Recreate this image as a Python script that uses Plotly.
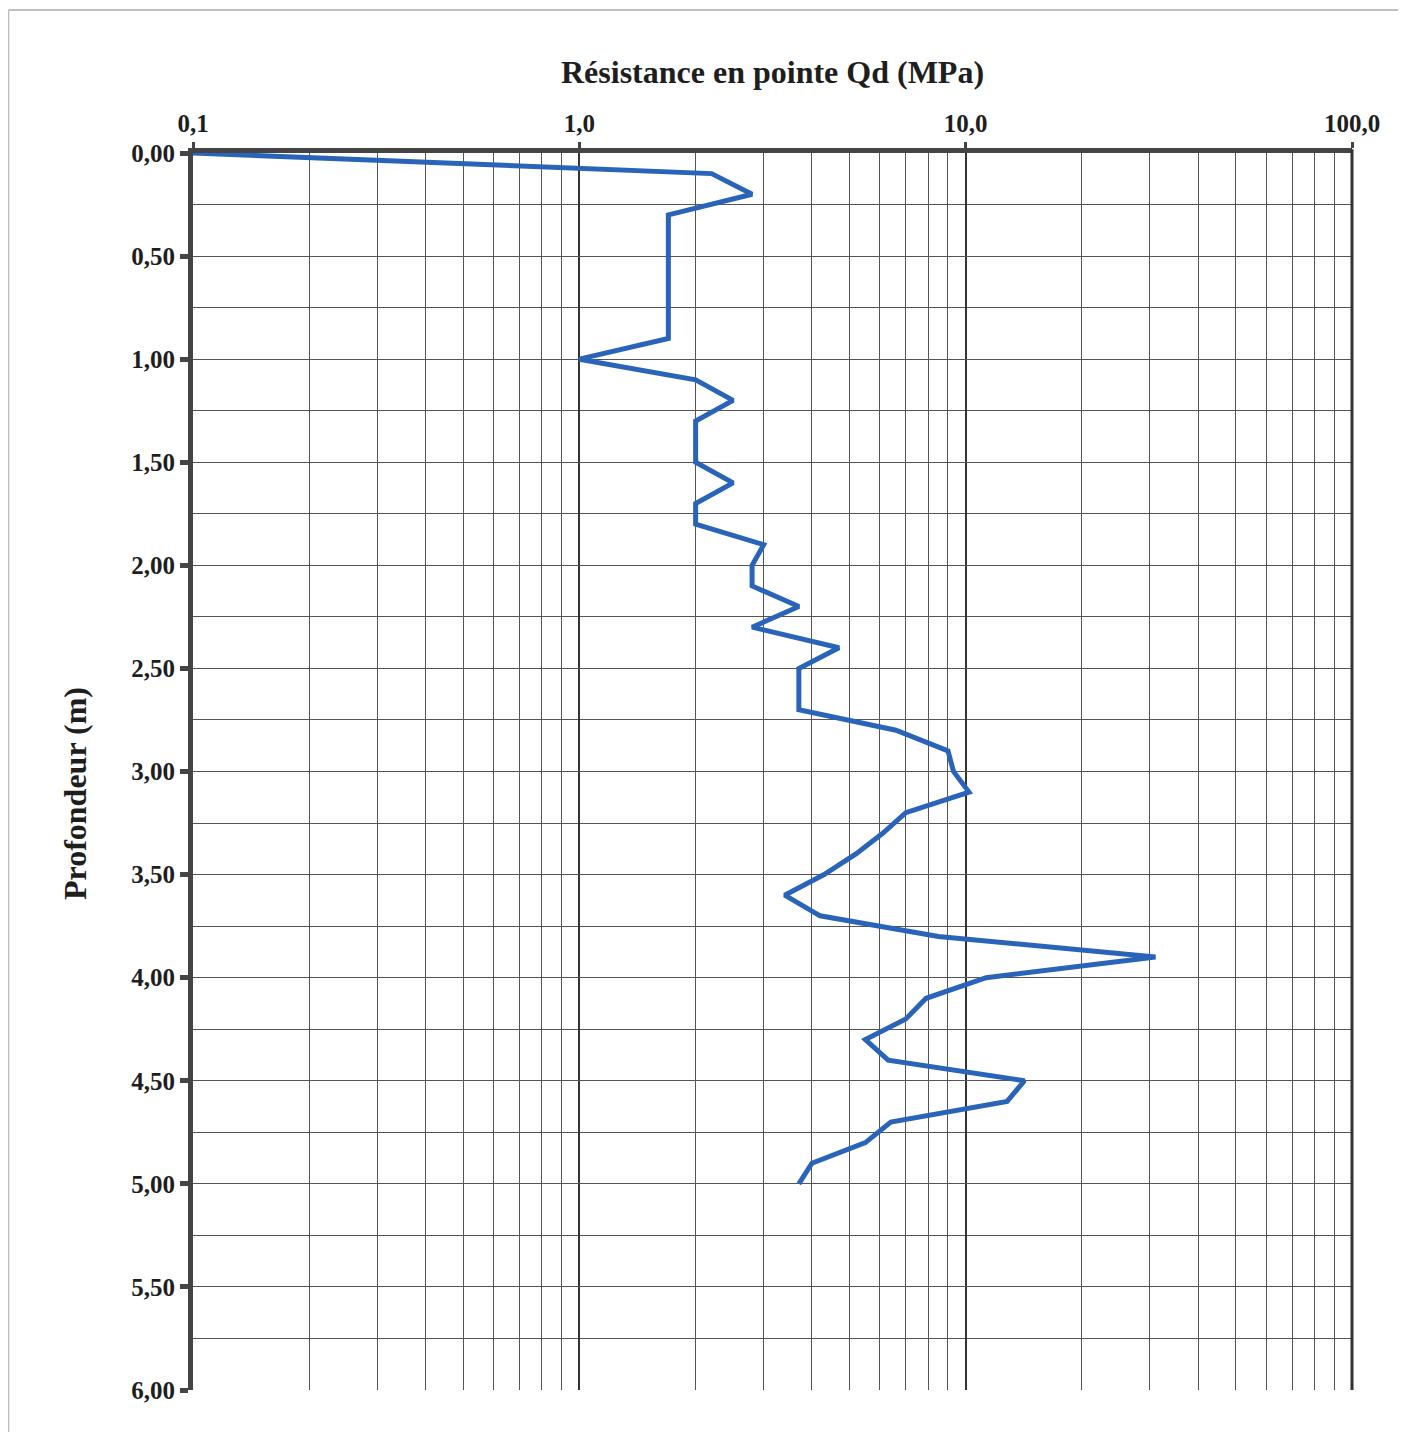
import plotly.graph_objects as go

# Data: depth (m) and cone resistance Qd (MPa)
depth = [0.0, 0.1, 0.2, 0.3, 0.4, 0.5, 0.6, 0.7, 0.8, 0.9,
         1.0, 1.1, 1.2, 1.3, 1.4, 1.5, 1.6, 1.7, 1.8, 1.9,
         2.0, 2.1, 2.2, 2.3, 2.4, 2.5, 2.6, 2.7, 2.8, 2.9,
         3.0, 3.1, 3.2, 3.3, 3.4, 3.5, 3.6, 3.7, 3.8, 3.9,
         4.0, 4.1, 4.2, 4.3, 4.4, 4.5, 4.6, 4.7, 4.8, 4.9, 5.0]
qd = [0.1, 2.2, 2.8, 1.7, 1.7, 1.7, 1.7, 1.7, 1.7, 1.7,
      1.0, 2.0, 2.5, 2.0, 2.0, 2.0, 2.5, 2.0, 2.0, 3.0,
      2.8, 2.8, 3.7, 2.8, 4.7, 3.7, 3.7, 3.7, 6.6, 9.0,
      9.3, 10.2, 7.0, 6.1, 5.2, 4.3, 3.4, 4.2, 8.5, 31.0,
      11.3, 7.9, 7.0, 5.5, 6.3, 14.2, 12.8, 6.4, 5.5, 4.0, 3.7]

x_major_vals = [0.1, 1, 10, 100]
x_major_text = ["0,1", "1,0", "10,0", "100,0"]
x_minor_vals = [m * d for d in (0.1, 1, 10) for m in range(2, 10)]
y_tick_vals = [0, 0.5, 1, 1.5, 2, 2.5, 3, 3.5, 4, 4.5, 5, 5.5, 6]
y_tick_text = ["0,00", "0,50", "1,00", "1,50", "2,00", "2,50", "3,00",
               "3,50", "4,00", "4,50", "5,00", "5,50", "6,00"]

# page has an 8px body margin, so the figure is offset by 8px
W, H = 1398, 1424
L, R, T, B = 185, 54, 145, 42
font_family = "Liberation Serif, Times New Roman, serif"
TXT = "#1e1e1e"
pw = W - L - R
ph = H - T - B

fig = go.Figure()
fig.add_trace(go.Scatter(
    x=qd, y=depth, mode="lines",
    line=dict(color="#2a64b8", width=5),
    hoverinfo="x+y", showlegend=False,
))

fig.update_layout(
    width=W, height=H,
    margin=dict(l=L, r=R, t=T, b=B, autoexpand=False),
    paper_bgcolor="white", plot_bgcolor="white",
    font=dict(family=font_family, color=TXT),
    xaxis=dict(
        type="log", range=[-1, 2], side="top",
        tickmode="array", tickvals=x_major_vals,
        ticktext=["<b>%s</b>" % t for t in x_major_text],
        tickfont=dict(size=25, family=font_family, color=TXT),
        ticks="outside", ticklen=6, tickwidth=3, tickcolor="#444",
        showgrid=True, gridcolor="#333", gridwidth=2,
        showline=True, linecolor="#444", linewidth=5,
        zeroline=False, automargin=False,
        minor=dict(tickmode="array", tickvals=x_minor_vals,
                   showgrid=True, gridcolor="#555", gridwidth=1, ticks=""),
        title=dict(text="<b>Résistance en pointe Qd (MPa)</b>",
                   font=dict(size=32, family=font_family, color=TXT),
                   standoff=18),
    ),
    yaxis=dict(
        range=[6, 0],
        tickmode="array", tickvals=y_tick_vals,
        ticktext=["<b>%s</b>" % t for t in y_tick_text],
        tickfont=dict(size=25, family=font_family, color=TXT),
        ticks="outside", ticklen=8, tickwidth=5, tickcolor="#444",
        showgrid=True, gridcolor="#555", gridwidth=1,
        showline=True, linecolor="#444", linewidth=5,
        zeroline=False, automargin=False,
        minor=dict(dtick=0.25, showgrid=True, gridcolor="#555", gridwidth=1, ticks=""),
    ),
)

# y-axis title placed like the original (slightly below centre)
fig.add_annotation(
    text="<b>Profondeur (m)</b>", textangle=-90,
    xref="paper", yref="paper",
    x=(67 - L) / pw, y=1 - (786 - T) / ph,
    xanchor="center", yanchor="middle", showarrow=False,
    font=dict(size=32, family=font_family, color=TXT),
)

# right border of plot (100 MPa line)
fig.add_shape(type="line", xref="x domain", yref="y domain",
              x0=1, x1=1, y0=0, y1=1.003, line=dict(color="#333", width=3))

# thin frame of the scanned page (top and left edges)
fx0 = (0.5 - L) / pw
fy1 = 1 - (2 - T) / ph
fig.add_shape(type="line", xref="paper", yref="paper",
              x0=fx0, x1=(W - L) / pw, y0=fy1, y1=fy1,
              line=dict(color="#aaa", width=1.5), layer="below")
fig.add_shape(type="line", xref="paper", yref="paper",
              x0=fx0, x1=fx0, y0=1 - (H - T) / ph, y1=fy1,
              line=dict(color="#bbb", width=1.5), layer="below")

fig.write_html("out.html")
